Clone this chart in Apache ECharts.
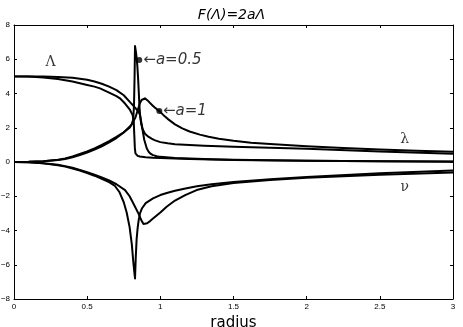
<!DOCTYPE html>
<html>
<head>
<meta charset="utf-8">
<script src="https://cdn.jsdelivr.net/npm/echarts@6/dist/echarts.min.js"></script>
<style>
  html, body { margin: 0; padding: 0; background: #fff; }
  #chart { width: 463px; height: 327px; }
</style>
</head>
<body>
<div id="chart"></div>
<script>
// 数据：Λ, λ, ν 对应 a=0.5 和 a=1
var rBigA1 = [0, 0.1, 0.2, 0.3, 0.4, 0.5, 0.55, 0.6, 0.65, 0.7, 0.75, 0.793, 0.83, 0.85, 0.861, 0.873, 0.89, 0.907, 0.92, 0.935, 0.95, 0.975, 1.0, 1.1, 1.2, 1.35, 1.5, 1.75, 2.0, 2.5, 3.0];
var bigA1 = [5, 5, 4.99, 4.97, 4.92, 4.8, 4.7, 4.57, 4.4, 4.2, 3.9, 3.5, 3.15, 2.95, 2.75, 2.16, 1.3, 0.8, 0.6, 0.47, 0.4, 0.34, 0.3, 0.24, 0.2, 0.16, 0.13, 0.1, 0.08, 0.05, 0.03];

var rBigA05 = [0, 0.1, 0.2, 0.3, 0.4, 0.5, 0.55, 0.588, 0.65, 0.7, 0.724, 0.76, 0.793, 0.81, 0.818, 0.822, 0.826, 0.83, 0.835, 0.845, 0.86, 0.9, 0.95, 1.0, 1.2, 1.5, 2.0, 2.5, 3.0];
var bigA05 = [5, 4.99, 4.94, 4.85, 4.7, 4.5, 4.4, 4.3, 4.05, 3.85, 3.72, 3.4, 3.04, 2.75, 2.4, 1.6, 0.8, 0.5, 0.42, 0.36, 0.32, 0.28, 0.25, 0.23, 0.17, 0.12, 0.07, 0.04, 0.02];

var rLamA05 = [0, 0.1, 0.2, 0.3, 0.35, 0.4, 0.45, 0.5, 0.55, 0.6, 0.65, 0.7, 0.747, 0.79, 0.805, 0.815, 0.82, 0.824, 0.827, 0.832, 0.838, 0.843, 0.848, 0.852, 0.857, 0.862, 0.87, 0.88, 0.895, 0.918, 0.94, 0.96, 1.0, 1.05, 1.1, 1.2, 1.3, 1.5, 1.75, 2.0, 2.5, 3.0];
var lamA05 = [0, 0.01, 0.05, 0.13, 0.21, 0.33, 0.47, 0.62, 0.8, 1.0, 1.22, 1.47, 1.72, 2.0, 2.2, 2.5, 3.3, 5.0, 6.77, 6.5, 6.1, 5.6, 4.9, 4.2, 3.3, 2.7, 2.2, 1.9, 1.65, 1.48, 1.36, 1.28, 1.16, 1.09, 1.04, 0.99, 0.95, 0.89, 0.83, 0.77, 0.62, 0.48];

var rLamA1 = [0, 0.1, 0.2, 0.3, 0.35, 0.4, 0.45, 0.5, 0.55, 0.6, 0.65, 0.7, 0.75, 0.8, 0.83, 0.85, 0.861, 0.872, 0.885, 0.895, 0.905, 0.915, 0.93, 0.945, 0.96, 0.975, 0.993, 1.02, 1.05, 1.1, 1.15, 1.2, 1.27, 1.33, 1.4, 1.5, 1.62, 1.75, 2.0, 2.25, 2.5, 2.75, 3.0];
var lamA1 = [0, 0.01, 0.04, 0.11, 0.18, 0.28, 0.4, 0.55, 0.72, 0.92, 1.15, 1.4, 1.72, 2.15, 2.6, 3.15, 3.45, 3.62, 3.7, 3.72, 3.68, 3.58, 3.44, 3.32, 3.2, 3.09, 2.98, 2.75, 2.52, 2.2, 1.96, 1.78, 1.6, 1.47, 1.36, 1.24, 1.13, 1.05, 0.92, 0.82, 0.73, 0.66, 0.6];

var rNuA05 = [0, 0.1, 0.2, 0.3, 0.35, 0.4, 0.45, 0.5, 0.55, 0.6, 0.65, 0.69, 0.72, 0.75, 0.77, 0.79, 0.805, 0.815, 0.822, 0.827, 0.832, 0.838, 0.845, 0.852, 0.861, 0.875, 0.9, 0.95, 1.0, 1.05, 1.1, 1.18, 1.25, 1.35, 1.5, 1.75, 2.0, 2.5, 3.0];
var nuA05 = [0, -0.02, -0.08, -0.19, -0.27, -0.38, -0.5, -0.65, -0.8, -0.98, -1.18, -1.4, -1.75, -2.35, -2.95, -3.8, -4.8, -5.8, -6.4, -6.8, -5.6, -4.5, -3.85, -3.4, -3.0, -2.7, -2.4, -2.12, -1.93, -1.8, -1.68, -1.53, -1.42, -1.3, -1.17, -1.0, -0.87, -0.66, -0.5];

var rNuA1 = [0, 0.1, 0.2, 0.3, 0.35, 0.4, 0.45, 0.5, 0.55, 0.6, 0.65, 0.7, 0.759, 0.79, 0.815, 0.85, 0.873, 0.885, 0.895, 0.91, 0.93, 0.952, 0.975, 1.0, 1.043, 1.1, 1.17, 1.248, 1.35, 1.5, 1.75, 2.0, 2.5, 3.0];
var nuA1 = [0, -0.02, -0.07, -0.16, -0.24, -0.34, -0.46, -0.6, -0.74, -0.9, -1.08, -1.3, -1.64, -2.0, -2.41, -3.0, -3.45, -3.62, -3.68, -3.58, -3.45, -3.29, -3.12, -2.95, -2.61, -2.25, -1.93, -1.64, -1.42, -1.23, -1.05, -0.92, -0.74, -0.62];

// 标注点和文字
var dotPoints = [[0.856, 5.96], [0.993, 2.98]];
var noteTexts = [[0.884, 5.96, "←a=0.5"], [1.018, 2.98, "←a=1"]];
var greekTexts = [[0.25, 5.84, "Λ"], [2.67, 1.3, "λ"], [2.67, -1.5, "ν"]];

var xTicks = [0, 3, 0.5];
var yTicks = [-8, 8, 2];

function pairs(xs, ys) {
  var out = [];
  for (var i = 0; i < xs.length; i++) {
    out.push([xs[i], ys[i]]);
  }
  return out;
}

function curve(xs, ys) {
  return {
    type: "line",
    data: pairs(xs, ys),
    showSymbol: false,
    smooth: false,
    lineStyle: { color: "#000", width: 2, join: "round" },
    silent: true,
    z: 3
  };
}

var myChart = echarts.init(document.getElementById("chart"));

var tickStyle = { inside: true, length: 3, lineStyle: { color: "#000", width: 1 } };

var option = {
  animation: false,
  title: {
    text: "F(Λ)=2aΛ",
    left: "center",
    top: 3,
    textStyle: { fontFamily: "DejaVu Sans", fontStyle: "italic", fontWeight: "normal", fontSize: 14, color: "#000" }
  },
  grid: { left: 14, right: 10, top: 25, bottom: 28, containLabel: false, outerBoundsMode: "none" },
  xAxis: [
    {
      type: "value",
      min: xTicks[0],
      max: xTicks[1],
      interval: xTicks[2],
      name: "radius",
      nameLocation: "middle",
      nameGap: 7,
      nameTextStyle: { fontFamily: "DejaVu Sans", fontSize: 15, color: "#000" },
      axisLine: { onZero: false, lineStyle: { color: "#000", width: 1 } },
      axisTick: tickStyle,
      axisLabel: { fontFamily: "Liberation Sans", fontSize: 8, color: "#000", margin: 4 },
      splitLine: { show: false }
    },
    {
      type: "value",
      position: "top",
      min: xTicks[0],
      max: xTicks[1],
      interval: xTicks[2],
      axisLine: { onZero: false, lineStyle: { color: "#000", width: 1 } },
      axisTick: tickStyle,
      axisLabel: { show: false },
      splitLine: { show: false }
    }
  ],
  yAxis: [
    {
      type: "value",
      min: yTicks[0],
      max: yTicks[1],
      interval: yTicks[2],
      axisLine: { show: true, onZero: false, lineStyle: { color: "#000", width: 1 } },
      axisTick: tickStyle,
      axisLabel: {
        fontFamily: "Liberation Sans",
        fontSize: 8,
        color: "#000",
        margin: 4,
        formatter: function (v) { return v < 0 ? "−" + (-v) : String(v); }
      },
      splitLine: { show: false }
    },
    {
      type: "value",
      position: "right",
      min: yTicks[0],
      max: yTicks[1],
      interval: yTicks[2],
      axisLine: { show: true, onZero: false, lineStyle: { color: "#000", width: 1 } },
      axisTick: tickStyle,
      axisLabel: { show: false },
      splitLine: { show: false }
    }
  ],
  series: [
    curve(rBigA1, bigA1),
    curve(rBigA05, bigA05),
    curve(rLamA05, lamA05),
    curve(rLamA1, lamA1),
    curve(rNuA05, nuA05),
    curve(rNuA1, nuA1),
    {
      type: "scatter",
      data: dotPoints,
      symbolSize: 6,
      itemStyle: { color: "#000" },
      silent: true,
      z: 5
    },
    {
      type: "scatter",
      data: noteTexts,
      symbolSize: 0,
      silent: true,
      label: {
        show: true,
        position: "right",
        distance: 0,
        formatter: function (p) { return p.value[2]; },
        fontFamily: "DejaVu Sans",
        fontStyle: "italic",
        fontSize: 15,
        color: "#000"
      },
      z: 5
    },
    {
      type: "scatter",
      data: greekTexts,
      symbolSize: 0,
      silent: true,
      label: {
        show: true,
        position: "inside",
        formatter: function (p) { return p.value[2]; },
        fontFamily: "DejaVu Serif",
        fontSize: 14,
        color: "#000"
      },
      z: 5
    }
  ]
};

myChart.setOption(option);
</script>
</body>
</html>
